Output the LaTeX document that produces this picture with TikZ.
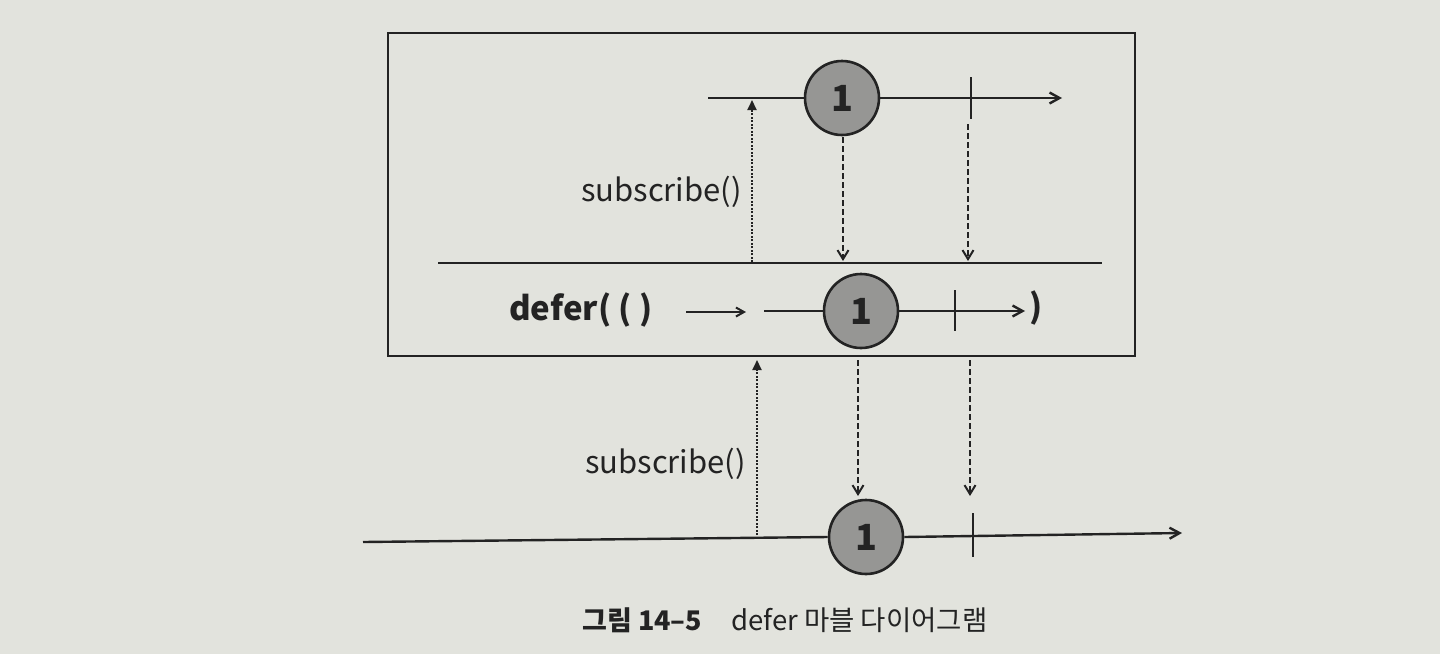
\documentclass[tikz,border=0pt]{standalone}
\usepackage{fontspec}
\setmainfont{Noto Sans CJK KR}
\usetikzlibrary{arrows.meta}
\definecolor{paper}{RGB}{226,227,221}
\definecolor{ink}{RGB}{35,35,35}
\definecolor{marblefill}{RGB}{150,150,148}
\tikzset{
  line/.style={draw=ink, line width=2.4pt},
  marble/.style={circle, draw=ink, line width=2.6pt, fill=marblefill, minimum size=74pt, inner sep=0pt, font=\fontsize{36}{40}\selectfont\bfseries, text=ink},
  tl/.style={line, -{Straight Barb[length=10pt,width=11pt,line width=2.4pt]}},
  upsub/.style={draw=ink, line width=2pt, dash pattern=on 2pt off 1.5pt, -{Triangle[length=10pt,width=9pt]}},
  downev/.style={draw=ink, line width=2pt, dash pattern=on 6pt off 3pt, -{Straight Barb[length=9pt,width=11pt,line width=2pt]}},
  lbl/.style={font=\fontsize{31}{36}\selectfont, text=ink, inner sep=0pt},
}
\begin{document}
\begin{tikzpicture}[x=1pt,y=-1pt]
\fill[paper] (0,0) rectangle (1440,654);
\useasboundingbox (0,0) rectangle (1440,654);
% outer box
\draw[line, line width=2.6pt] (388,33) rectangle (1135,356);
% top source timeline
\node[marble] (c1) at (842,98) {1};
\coordinate (t1s) at (708,98);
\coordinate (t1e) at (1062,98);
\draw[line] (t1s) -- (c1.west);
\draw[tl] (c1.east) -- (t1e);
\coordinate (k1a) at (971,77);
\coordinate (k1b) at (971,119);
\draw[line, line width=2.8pt] (k1a) -- (k1b);
% separator line
\coordinate (sepL) at (438,263);
\coordinate (sepR) at (1102,263);
\draw[line] (sepL) -- (sepR);
% subscribe arrow inside box
\coordinate (u1b) at (752,262);
\coordinate (u1t) at (752,100);
\draw[upsub] (u1b) -- (u1t);
\node[lbl, anchor=east] (s1) at (742,192) {subscribe()};
% emission arrows to separator
\coordinate (d1a) at (843,137);
\coordinate (d1b) at (843,261);
\coordinate (d2a) at (968,124);
\coordinate (d2b) at (968,261);
\draw[downev] (d1a) -- (d1b);
\draw[downev] (d2a) -- (d2b);
% defer row
\node[lbl, font=\fontsize{33}{38}\selectfont\bfseries, anchor=west] (df) at (509,310) {defer( ( )};
\coordinate (sa) at (686,312);
\coordinate (sb) at (746,312);
\draw[line, line width=2pt, -{Straight Barb[length=8pt,width=9pt,line width=2pt]}] (sa) -- (sb);
\node[marble] (c2) at (861,311) {1};
\coordinate (t2s) at (764,311);
\coordinate (t2e) at (1025,311);
\draw[line] (t2s) -- (c2.west);
\draw[tl] (c2.east) -- (t2e);
\coordinate (k2a) at (955,290);
\coordinate (k2b) at (955,331);
\draw[line, line width=2.8pt] (k2a) -- (k2b);
\node[lbl, font=\fontsize{33}{38}\selectfont\bfseries, anchor=west] (cp) at (1029,308) {)};
% subscribe below box
\coordinate (u2b) at (757,535);
\coordinate (u2t) at (757,360);
\draw[upsub] (u2b) -- (u2t);
\node[lbl, anchor=east] (s2) at (746,464) {subscribe()};
\coordinate (d3a) at (858,360);
\coordinate (d3b) at (858,496);
\coordinate (d4a) at (970,360);
\coordinate (d4b) at (970,496);
\draw[downev] (d3a) -- (d3b);
\draw[downev] (d4a) -- (d4b);
% bottom result timeline
\node[marble] (c3) at (866,537) {1};
\coordinate (t3s) at (363,542);
\coordinate (t3e) at (1182,533);
\draw[line] (t3s) -- (c3.west);
\draw[tl] (c3.east) -- (t3e);
\coordinate (k3a) at (973,513);
\coordinate (k3b) at (973,557);
\draw[line, line width=2.8pt] (k3a) -- (k3b);
% caption
\node[lbl, font=\fontsize{27}{32}\selectfont\bfseries, anchor=west] (cap1) at (582,620) {그림 14–5};
\node[lbl, font=\fontsize{27.5}{32}\selectfont, anchor=west] (cap2) at (731,620) {defer 마블 다이어그램};
\end{tikzpicture}
\end{document}
